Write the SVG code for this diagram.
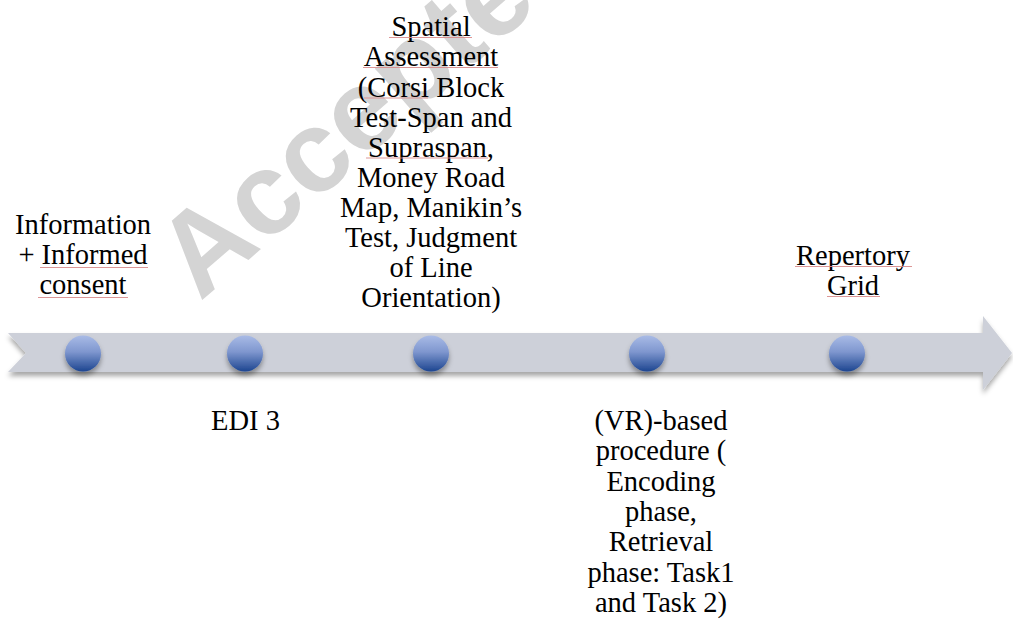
<svg xmlns="http://www.w3.org/2000/svg" width="1013" height="619" viewBox="0 0 1013 619">
<style>
.t{font-family:'Liberation Serif','Times New Roman',serif;font-size:28.5px;fill:#000;text-anchor:middle}
.u{stroke:#d98c8c;stroke-width:1;opacity:0.9}
</style>
<defs>
<linearGradient id="dot" x1="0" y1="0" x2="0" y2="1">
<stop offset="0" stop-color="#a9bbe6"/>
<stop offset="0.45" stop-color="#7f97cf"/>
<stop offset="1" stop-color="#1c4590"/>
</linearGradient>
<filter id="sh" x="-10%" y="-30%" width="120%" height="170%">
<feDropShadow dx="0" dy="4" stdDeviation="2.5" flood-color="#000" flood-opacity="0.35"/>
</filter>
</defs>
<rect width="1013" height="619" fill="#fff"/>
<text transform="translate(200,302) rotate(-41)" font-family="Liberation Sans, Arial, sans-serif" font-weight="bold" font-size="116" fill="#d4d4d4">Accepted</text>
<g id="timeline">
<path d="M8,333 L983,333 L983,316 L1012,353 L983,390 L983,372 L8,372 L26,353 Z" fill="#cdd0d9" filter="url(#sh)"/>
</g>
<g id="dots" filter="url(#sh)">
<circle id="dot1" cx="83" cy="353.5" r="18" fill="url(#dot)"/>
<circle id="dot2" cx="245" cy="353.5" r="18" fill="url(#dot)"/>
<circle id="dot3" cx="431" cy="353.5" r="18" fill="url(#dot)"/>
<circle id="dot4" cx="647" cy="353.5" r="18" fill="url(#dot)"/>
<circle id="dot5" cx="847" cy="353.5" r="18" fill="url(#dot)"/>
</g>
<g id="connectors"></g>
<g id="labels">
<g id="n1">
<text class="t" x="83" y="234">Information</text>
<text class="t" x="83" y="264">+ Informed</text>
<text class="t" x="83" y="294">consent</text>
<line class="u" x1="40" y1="267.5" x2="148" y2="267.5"/>
<line class="u" x1="38" y1="297.5" x2="128" y2="297.5"/>
</g>
<g id="n2">
<text class="t" x="245.5" y="430">EDI 3</text>
</g>
<g id="n3">
<text class="t" x="431" y="36">Spatial</text>
<text class="t" x="431" y="66">Assessment</text>
<text class="t" x="431" y="96.5">(Corsi Block</text>
<text class="t" x="431" y="126.5">Test-Span and</text>
<text class="t" x="431" y="156.5">Supraspan,</text>
<text class="t" x="431" y="187">Money Road</text>
<text class="t" x="431" y="217">Map, Manikin’s</text>
<text class="t" x="431" y="247">Test, Judgment</text>
<text class="t" x="431" y="277">of Line</text>
<text class="t" x="431" y="307">Orientation)</text>
<line class="u" x1="389" y1="37.5" x2="472" y2="37.5"/>
<line class="u" x1="363" y1="67.5" x2="498" y2="67.5"/>
<line class="u" x1="364" y1="98" x2="428" y2="98"/>
<line class="u" x1="366" y1="158" x2="488" y2="158"/>
</g>
<g id="n4">
<text class="t" x="661" y="430">(VR)-based</text>
<text class="t" x="661" y="460">procedure (</text>
<text class="t" x="661" y="490.5">Encoding</text>
<text class="t" x="661" y="521">phase,</text>
<text class="t" x="661" y="551">Retrieval</text>
<text class="t" x="661" y="581.5">phase: Task1</text>
<text class="t" x="661" y="612">and Task 2)</text>
</g>
<g id="n5">
<text class="t" x="853" y="265">Repertory</text>
<text class="t" x="853" y="295">Grid</text>
<line class="u" x1="795" y1="266.5" x2="912" y2="266.5"/>
<line class="u" x1="827" y1="296.5" x2="880" y2="296.5"/>
</g>
</g>
</svg>
